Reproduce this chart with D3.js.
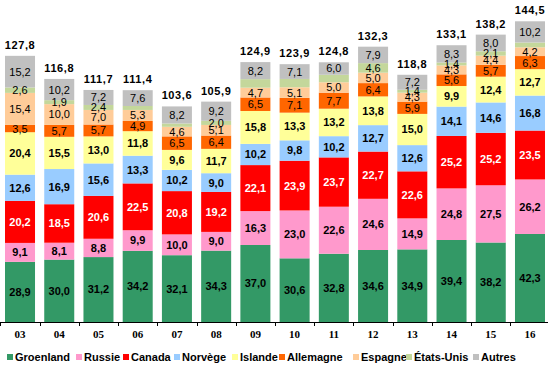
<!DOCTYPE html>
<html>
<head>
<meta charset="utf-8">
<script src="https://cdn.jsdelivr.net/npm/d3@7"></script>
<style>
  body { margin: 0; background: #fff; }
  svg { display: block; }
  .seg-label { font-family: "Liberation Sans", Arial, sans-serif; font-size: 11px; }
  .total { font-family: "Liberation Sans", Arial, sans-serif; font-size: 11px; font-weight: bold; letter-spacing: 0.6px; }
  .year { font-family: "Liberation Serif", "Times New Roman", serif; font-size: 11px; font-weight: bold; }
  .legend text { font-family: "Liberation Sans", Arial, sans-serif; font-size: 11px; font-weight: bold; }
</style>
</head>
<body>
<svg id="chart" width="548" height="376"></svg>
<script>
// years on the x axis
var years = ["03", "04", "05", "06", "07", "08", "09", "10", "11", "12", "13", "14", "15", "16"];

var groenland = [28.9, 30.0, 31.2, 34.2, 32.1, 34.3, 37.0, 30.6, 32.8, 34.6, 34.9, 39.4, 38.2, 42.3];
var russie    = [9.1, 8.1, 8.8, 9.9, 10.0, 9.0, 16.3, 23.0, 22.6, 24.6, 14.9, 24.8, 27.5, 26.2];
var canada    = [20.2, 18.5, 20.6, 22.5, 20.8, 19.2, 22.1, 23.9, 23.7, 22.7, 22.6, 25.2, 25.2, 23.5];
var norvege   = [12.6, 16.9, 15.6, 13.3, 10.2, 9.0, 10.2, 9.8, 10.2, 12.7, 12.6, 14.1, 14.6, 16.8];
var islande   = [20.4, 15.5, 13.0, 11.8, 9.6, 11.7, 15.8, 13.3, 13.2, 13.8, 15.0, 9.9, 12.4, 12.7];
var allemagne = [3.5, 5.7, 5.7, 4.9, 6.5, 6.4, 6.5, 7.1, 7.7, 6.4, 5.9, 5.6, 5.7, 6.3];
var espagne   = [15.4, 10.0, 7.0, 5.3, 4.6, 5.1, 4.7, 5.1, 5.0, 5.0, 4.3, 4.3, 4.4, 4.2];
// no label in the picture for 06, 07, 09, 10, 11, 16 -> estimated from the totals
var etatsUnis = [2.6, 1.9, 2.4, 1.9, 1.6, 2.0, 4.1, 4.0, 3.6, 4.6, 1.4, 1.4, 2.1, 2.3];
var etatsUnisLabelled = [true, true, true, false, false, true, false, false, false, true, true, true, true, false];
var autres    = [15.2, 10.2, 7.2, 7.6, 8.2, 9.2, 8.2, 7.1, 6.0, 7.9, 7.2, 8.3, 8.0, 10.2];
var totals    = [127.8, 116.8, 111.7, 111.4, 103.6, 105.9, 124.9, 123.9, 124.8, 132.3, 118.8, 133.1, 138.2, 144.5];

var seriesNames = ["Groenland", "Russie", "Canada", "Norvège", "Islande", "Allemagne", "Espagne", "États-Unis", "Autres"];
var seriesValues = [groenland, russie, canada, norvege, islande, allemagne, espagne, etatsUnis, autres];
var colors = ["#339966", "#FF99CC", "#FF0000", "#99CCFF", "#FFFF99", "#FF6600", "#FFCC99", "#C4D79B", "#C0C0C0"];
var labelColors = ["#000", "#000", "#fff", "#000", "#000", "#000", "#000", "#000", "#000"];
var boldLabels = [true, true, true, true, true, false, false, false, false];

var svg = d3.select("#chart");
var baseY = 322;

var x = d3.scaleBand()
    .domain(years)
    .range([0.4, 549.6])
    .paddingInner(0.235)
    .paddingOuter(0.1175);

var y = d3.scaleLinear()
    .domain([0, 150])
    .range([baseY, baseY - 150 * 2.081]);

var fmt = function(v) { return d3.format(".1f")(v).replace(".", ","); };

// build rows for d3.stack
var table = years.map(function(yr, i) {
    var row = { year: yr };
    seriesNames.forEach(function(s, k) { row[s] = seriesValues[k][i]; });
    return row;
});

var stacked = d3.stack().keys(seriesNames)(table);

var layer = svg.selectAll("g.layer")
    .data(stacked)
    .enter()
    .append("g")
    .attr("class", "layer")
    .attr("fill", function(d, k) { return colors[k]; });

layer.selectAll("rect")
    .data(function(d) { return d; })
    .enter()
    .append("rect")
    .attr("x", function(d) { return x(d.data.year); })
    .attr("width", x.bandwidth())
    .attr("y", function(d) { return y(d[1]); })
    .attr("height", function(d) { return y(d[0]) - y(d[1]); });

// segment labels
stacked.forEach(function(s, k) {
    svg.append("g")
        .selectAll("text")
        .data(s.filter(function(d, i) { return k !== 7 || etatsUnisLabelled[i]; }))
        .enter()
        .append("text")
        .attr("class", "seg-label")
        .attr("x", function(d) { return x(d.data.year) + x.bandwidth() / 2; })
        .attr("y", function(d) { return (y(d[0]) + y(d[1])) / 2; })
        .attr("dy", "0.36em")
        .attr("text-anchor", "middle")
        .attr("fill", labelColors[k])
        .style("font-weight", boldLabels[k] ? "bold" : "normal")
        .text(function(d) { return fmt(d[1] - d[0]); });
});

// totals above bars
svg.append("g")
    .selectAll("text")
    .data(years)
    .enter()
    .append("text")
    .attr("class", "total")
    .attr("x", function(d) { return x(d) + x.bandwidth() / 2; })
    .attr("y", function(d, i) { return y(d3.sum(seriesValues, function(v) { return v[i]; })) - 7; })
    .attr("text-anchor", "middle")
    .text(function(d, i) { return fmt(totals[i]); });

// x axis: labels under bars, ticks between categories
var axis = svg.append("g")
    .attr("transform", "translate(0," + baseY + ")")
    .call(d3.axisBottom(x).tickSize(0).tickPadding(8));
axis.select(".domain").remove();
axis.selectAll("text").attr("class", "year").attr("fill", "#000");

svg.append("line")
    .attr("x1", 0).attr("x2", 548)
    .attr("y1", baseY + 0.5).attr("y2", baseY + 0.5)
    .attr("stroke", "#000").attr("stroke-width", 1);

svg.append("g")
    .selectAll("line")
    .data(d3.range(years.length + 1))
    .enter()
    .append("line")
    .attr("x1", function(i) { return Math.round(x.range()[0] + i * x.step()) + 0.5; })
    .attr("x2", function(i) { return Math.round(x.range()[0] + i * x.step()) + 0.5; })
    .attr("y1", baseY)
    .attr("y2", baseY + 4)
    .attr("stroke", "#000");

// legend
var legendX = [7, 76, 123, 174, 232, 279, 353, 406, 473];
var legend = svg.append("g").attr("class", "legend");
var item = legend.selectAll("g")
    .data(seriesNames)
    .enter()
    .append("g")
    .attr("transform", function(d, k) { return "translate(" + legendX[k] + ",357)"; });
item.append("rect")
    .attr("x", 0).attr("y", -3)
    .attr("width", 6).attr("height", 6)
    .attr("fill", function(d, k) { return colors[k]; });
item.append("text")
    .attr("x", 8)
    .attr("dy", "0.36em")
    .text(function(d) { return d; });
</script>
</body>
</html>
